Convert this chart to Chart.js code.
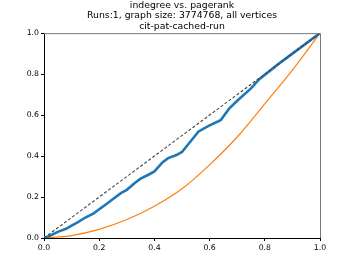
<!DOCTYPE html>
<html>
<head>
<meta charset="utf-8">
<script src="https://cdn.jsdelivr.net/npm/chart.js@4/dist/chart.umd.min.js"></script>
<style>
  html, body { margin: 0; padding: 0; background: #fff; }
  #wrap { width: 357px; height: 268px; }
</style>
</head>
<body>
<div id="wrap"><canvas id="chart"></canvas></div>
<script>
'use strict'
const ctx = document.getElementById('chart').getContext('2d')

const titleLines = [
  'indegree vs. pagerank',
  'Runs:1, graph size: 3774768, all vertices',
  'cit-pat-cached-run',
]

const tickValues = [0, 0.2, 0.4, 0.6, 0.8, 1.0]

// blue curve (indegree ranking)
const indegreeX = [0, 0.02, 0.05, 0.08, 0.1, 0.12, 0.15, 0.18, 0.2, 0.23, 0.25, 0.28, 0.3, 0.33, 0.35, 0.38, 0.4, 0.43, 0.45, 0.48, 0.5, 0.53, 0.56, 0.6, 0.64, 0.67, 0.7, 0.75, 0.78, 0.85, 0.9, 0.95, 1.0]
const indegreeY = [0, 0.01, 0.03, 0.045, 0.06, 0.075, 0.1, 0.12, 0.14, 0.17, 0.19, 0.22, 0.235, 0.27, 0.29, 0.31, 0.325, 0.37, 0.39, 0.405, 0.42, 0.47, 0.52, 0.55, 0.575, 0.63, 0.67, 0.73, 0.775, 0.85, 0.9, 0.95, 1.0]

// orange curve
const pagerankX = [0, 0.1, 0.2, 0.3, 0.4, 0.5, 0.6, 0.7, 0.8, 0.9, 1.0]
const pagerankY = [0, 0.012, 0.042, 0.09, 0.155, 0.24, 0.357, 0.493, 0.655, 0.82, 1.0]

// diagonal reference
const diagX = [0, 1]
const diagY = [0, 1]

const toPoints = (xs, ys) => xs.map((x, i) => ({ x: x, y: ys[i] }))

const frame = {
  id: 'frame',
  afterDatasetsDraw(chart) {
    const a = chart.chartArea
    const c = chart.ctx
    c.save()
    c.strokeStyle = '#777'
    c.lineWidth = 1
    c.beginPath()
    c.moveTo(a.left, a.top + 0.5)
    c.lineTo(a.right + 0.5, a.top + 0.5)
    c.lineTo(a.right + 0.5, a.bottom)
    c.stroke()
    c.restore()
  },
}

const axisGrid = {
  drawOnChartArea: false,
  drawTicks: true,
  tickLength: 3,
  tickColor: '#000',
}

const tickFont = { family: 'DejaVu Sans', size: 7.75 }

const data = {
  datasets: [
    {
      label: 'diagonal',
      data: toPoints(diagX, diagY),
      borderColor: '#444',
      borderWidth: 1.1,
      borderDash: [3, 2],
      pointRadius: 0,
      fill: false,
    },
    {
      label: 'indegree',
      data: toPoints(indegreeX, indegreeY),
      borderColor: '#1f77b4',
      borderWidth: 2.6,
      pointRadius: 0,
      fill: false,
    },
    {
      label: 'pagerank',
      data: toPoints(pagerankX, pagerankY),
      borderColor: '#ff7f0e',
      borderWidth: 1.2,
      pointRadius: 0,
      fill: false,
      cubicInterpolationMode: 'monotone',
    },
  ],
}

const config = {
  type: 'line',
  data: data,
  plugins: [frame],
  options: {
    responsive: true,
    maintainAspectRatio: false,
    animation: false,
    layout: { padding: { left: 0, right: 37, top: 0, bottom: 0 } },
    scales: {
      x: {
        type: 'linear',
        min: 0,
        max: 1,
        afterBuildTicks(scale) {
          scale.ticks = tickValues.map(v => ({ value: v }))
        },
        afterFit(scale) {
          scale.height = 30
        },
        grid: axisGrid,
        border: { display: true, color: '#000', width: 1 },
        ticks: {
          color: '#000',
          font: tickFont,
          padding: 2,
          maxRotation: 0,
          callback: v => v.toFixed(1),
        },
      },
      y: {
        type: 'linear',
        min: 0,
        max: 1,
        afterBuildTicks(scale) {
          scale.ticks = tickValues.map(v => ({ value: v }))
        },
        afterFit(scale) {
          scale.width = 44
        },
        grid: axisGrid,
        border: { display: true, color: '#000', width: 1 },
        ticks: {
          color: '#000',
          font: tickFont,
          padding: 2,
          callback: v => v.toFixed(1),
        },
      },
    },
    plugins: {
      legend: { display: false },
      tooltip: { enabled: false },
      title: {
        display: true,
        text: titleLines,
        color: '#000',
        fullSize: false,
        font: { family: 'DejaVu Sans', size: 9.3, weight: 'normal', lineHeight: 1.08 },
        padding: { top: 1, bottom: 2 },
      },
    },
  },
}

const chart = new Chart(ctx, config)
</script>
</body>
</html>
